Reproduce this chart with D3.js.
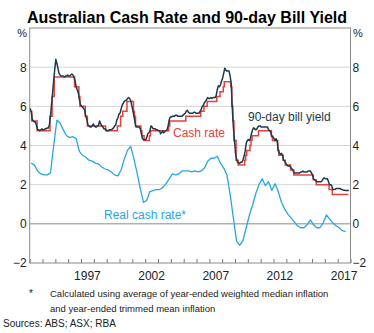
<!DOCTYPE html>
<html>
<head>
<meta charset="utf-8">
<script src="https://cdn.jsdelivr.net/npm/d3@7"></script>
<style>
  body { margin: 0; background: #fff; }
  svg { display: block; font-family: "Liberation Sans", Arial, sans-serif; }
</style>
</head>
<body>
<svg width="374" height="333"></svg>
<script>
"use strict";

// 90-day bank bill yield, monthly from Jan 1993
const billStart = [1993, 0];
const billYield = [
  5.9, 5.7, 5.35, 5.25, 5.2, 5.2, 5.0, 4.8, 4.8, 4.75, 4.8, 4.85,
  4.8, 4.8, 4.85, 4.85, 4.9, 4.9, 5.05, 5.5, 6.1, 6.7, 7.3, 7.9,
  8.4, 8.2, 7.95, 7.7, 7.6, 7.55, 7.55, 7.55, 7.5, 7.55, 7.55, 7.6,
  7.55, 7.55, 7.6, 7.65, 7.6, 7.5, 7.3, 7.0, 6.85, 6.7, 6.35, 6.1,
  6.0, 5.95, 5.9, 5.8, 5.5, 5.35, 5.05, 5.0, 4.95, 4.95, 5.0, 5.1,
  5.0, 4.95, 4.95, 5.0, 5.05, 5.25, 5.1, 5.0, 4.95, 4.85, 4.85, 4.8,
  4.75, 4.75, 4.8, 4.8, 4.8, 4.85, 4.9, 5.0, 5.05, 5.3, 5.4, 5.6,
  5.65, 5.85, 6.05, 6.15, 6.25, 6.3, 6.3, 6.4, 6.45, 6.4, 6.3, 6.05,
  5.8, 5.5, 5.2, 4.95, 4.95, 4.95, 4.95, 4.85, 4.6, 4.35, 4.3, 4.3,
  4.3, 4.4, 4.6, 4.65, 4.75, 5.0, 4.95, 4.85, 4.85, 4.85, 4.8, 4.8,
  4.75, 4.75, 4.6, 4.65, 4.75, 4.65, 4.7, 4.75, 4.8, 5.0, 5.3, 5.45,
  5.45, 5.5, 5.5, 5.5, 5.55, 5.55, 5.5, 5.5, 5.5, 5.5, 5.5, 5.55,
  5.6, 5.65, 5.75, 5.8, 5.7, 5.65, 5.65, 5.65, 5.65, 5.7, 5.7, 5.65,
  5.65, 5.65, 5.65, 5.75, 5.85, 6.0, 6.05, 6.2, 6.25, 6.35, 6.45, 6.4,
  6.4, 6.45, 6.4, 6.45, 6.45, 6.45, 6.55, 6.85, 7.05, 7.0, 7.1, 7.3,
  7.45, 7.7, 7.95, 7.85, 7.8, 7.8, 7.8, 7.55, 7.15, 5.9, 4.95, 4.3,
  3.6, 3.3, 3.15, 3.1, 3.1, 3.15, 3.15, 3.25, 3.45, 3.7, 4.1, 4.25,
  4.3, 4.25, 4.35, 4.6, 4.8, 4.9, 4.85, 4.8, 4.85, 4.95, 5.0, 5.0,
  4.95, 4.95, 4.95, 4.95, 4.95, 4.95, 4.95, 4.8, 4.75, 4.7, 4.45, 4.45,
  4.35, 4.25, 4.35, 4.2, 3.8, 3.6, 3.55, 3.6, 3.5, 3.25, 3.2, 3.1,
  3.0, 2.95, 2.95, 2.95, 2.85, 2.8, 2.7, 2.6, 2.6, 2.6, 2.6, 2.6,
  2.6, 2.65, 2.65, 2.7, 2.65, 2.65, 2.65, 2.65, 2.7, 2.7, 2.7, 2.6,
  2.5, 2.3, 2.25, 2.2, 2.15, 2.15, 2.15, 2.15, 2.15, 2.2, 2.3, 2.35,
  2.3, 2.3, 2.3, 2.15, 2.0, 2.0, 1.95, 1.75, 1.75, 1.75, 1.8, 1.8,
  1.8, 1.8, 1.8, 1.75, 1.75, 1.72, 1.72, 1.7, 1.7, 1.7, 1.7
];

// cash rate target: month of each change and the new level
const cashDates = [
  "1993-01", "1993-03", "1993-08", "1994-08", "1994-10", "1994-12", "1996-07", "1996-11",
  "1996-12", "1997-05", "1997-07", "1998-12", "1999-11", "2000-02", "2000-04", "2000-08",
  "2001-02", "2001-03", "2001-04", "2001-09", "2001-10", "2001-12", "2002-05", "2002-06",
  "2003-11", "2003-12", "2005-03", "2006-05", "2006-08", "2006-11", "2007-08", "2007-11",
  "2008-02", "2008-03", "2008-09", "2008-10", "2008-11", "2008-12", "2009-02", "2009-04",
  "2009-10", "2009-11", "2009-12", "2010-03", "2010-04", "2010-05", "2010-11", "2011-11",
  "2011-12", "2012-05", "2012-06", "2012-10", "2012-12", "2013-05", "2013-08", "2015-02",
  "2015-05", "2016-05", "2016-08", "2017-11"
];
const cashRate = [
  5.75, 5.25, 4.75, 5.5, 6.5, 7.5, 7.0, 6.5,
  6.0, 5.5, 5.0, 4.75, 5.0, 5.5, 5.75, 6.25,
  5.75, 5.5, 5.0, 4.75, 4.5, 4.25, 4.5, 4.75,
  5.0, 5.25, 5.5, 5.75, 6.0, 6.25, 6.5, 6.75,
  7.0, 7.25, 7.0, 6.0, 5.25, 4.25, 3.25, 3.0,
  3.25, 3.5, 3.75, 4.0, 4.25, 4.5, 4.75, 4.5,
  4.25, 3.75, 3.5, 3.25, 3.0, 2.75, 2.5, 2.25,
  2.0, 1.75, 1.5, 1.5
];

// real cash rate, quarterly from 1993 Q1
const realStart = [1993, 1];
const realRate = [
  3.1, 3.0, 2.7, 2.55, 2.5, 2.5, 2.6, 4.0,
  5.3, 5.15, 4.8, 4.5, 4.4, 4.45, 4.35, 3.7,
  3.5, 3.4, 3.25, 3.2, 3.1, 3.05, 2.9, 2.8,
  2.75, 2.65, 2.5, 2.45, 2.75, 3.3, 3.75, 3.95,
  3.3, 2.6, 1.8, 1.1, 1.2, 1.65, 1.7, 1.75,
  1.75, 1.85, 2.05, 2.3, 2.55, 2.5, 2.55, 2.7,
  2.7, 2.7, 2.65, 2.7, 2.65, 2.7, 2.85, 3.2,
  3.35, 3.35, 3.45, 3.1, 2.85, 2.5, 1.5, 0.3,
  -0.9, -1.1, -0.85, -0.2, 0.45, 0.95, 1.55, 2.0,
  2.3, 1.95, 2.15, 1.7, 2.05, 1.65, 1.1, 0.75,
  0.5, 0.3, 0.1, -0.1, -0.2, -0.2, -0.05, 0.2,
  -0.05, -0.2, -0.2, 0.05, 0.45, 0.25, 0.05, -0.1,
  -0.2, -0.35, -0.4
];

const yTicks = [-2, 0, 2, 4, 6, 8];
const gridValues = [2, 4, 6, 8];
const yearLabels = [1997, 2002, 2007, 2012, 2017];

const titleText = "Australian Cash Rate and 90-day Bill Yield";
const footnotes = [
  "Calculated using average of year-ended weighted median inflation",
  "and year-ended trimmed mean inflation"
];
const sourceText = "Sources: ABS; ASX; RBA";

const plotLeft = 29.7, plotRight = 350.5, plotTop = 28, plotBottom = 263;
const colBill = "#1c3a4b", colCash = "#e8403a", colReal = "#2aa6df";

const svg = d3.select("svg");

const x = d3.scaleTime()
  .domain([new Date(1993, 0, 1), new Date(2018, 0, 1)])
  .range([plotLeft, plotRight]);
const y = d3.scaleLinear().domain([-2, 10]).range([plotBottom, plotTop]);

const billData = billYield.map((v, i) => ({ date: new Date(billStart[0], billStart[1] + i, 15), value: v }));
const realData = realRate.map((v, i) => ({ date: new Date(realStart[0], realStart[1] + i * 3, 15), value: v }));
const cashData = cashDates.map((d, i) => {
  const p = d.split("-");
  return { date: new Date(+p[0], +p[1] - 1, 1), value: cashRate[i] };
});

// title
svg.append("text")
  .attr("x", 187).attr("y", 23)
  .attr("text-anchor", "middle")
  .style("font-size", "16px").style("font-weight", "bold")
  .attr("fill", "#000")
  .text(titleText);

// horizontal gridlines
svg.append("g")
  .selectAll("line")
  .data(gridValues)
  .join("line")
  .attr("x1", plotLeft).attr("x2", plotRight)
  .attr("y1", d => y(d)).attr("y2", d => y(d))
  .attr("stroke", "#d4d4d4").attr("stroke-width", 1);

svg.append("line")
  .attr("x1", plotLeft).attr("x2", plotRight)
  .attr("y1", y(0)).attr("y2", y(0))
  .attr("stroke", "#8a8a8a").attr("stroke-width", 1);

// yearly ticks pointing into the plot
const xAxis = svg.append("g")
  .attr("transform", `translate(0,${plotBottom})`)
  .call(d3.axisBottom(x).ticks(d3.timeYear.every(1)).tickSize(-4).tickFormat(""));
xAxis.select(".domain").remove();
xAxis.selectAll("line").attr("stroke", "#777");

svg.append("g")
  .selectAll("text")
  .data(yearLabels)
  .join("text")
  .attr("x", d => (x(new Date(d, 0, 1)) + x(new Date(d + 1, 0, 1))) / 2)
  .attr("y", 280)
  .attr("text-anchor", "middle")
  .style("font-size", "12px")
  .attr("fill", "#222")
  .text(d => d);

// value axes on both sides
function styleY(g) {
  g.select(".domain").remove();
  g.selectAll("text").style("font-size", "12px").attr("fill", "#222")
    .style("font-family", "\"Liberation Sans\", Arial, sans-serif");
}
svg.append("g")
  .attr("transform", `translate(${plotLeft},0)`)
  .call(d3.axisLeft(y).tickValues(yTicks).tickSize(0).tickPadding(3))
  .call(styleY);
svg.append("g")
  .attr("transform", `translate(${plotRight},0)`)
  .call(d3.axisRight(y).tickValues(yTicks).tickSize(0).tickPadding(2))
  .call(styleY);

svg.append("text").attr("x", 27).attr("y", 37).attr("text-anchor", "end")
  .style("font-size", "11px").attr("fill", "#222").text("%");
svg.append("text").attr("x", 353).attr("y", 37)
  .style("font-size", "11px").attr("fill", "#222").text("%");

// series
const line = d3.line().x(d => x(d.date)).y(d => y(d.value));
const stepLine = d3.line().x(d => x(d.date)).y(d => y(d.value)).curve(d3.curveStepAfter);

svg.append("path").datum(realData)
  .attr("d", line).attr("fill", "none")
  .attr("stroke", colReal).attr("stroke-width", 1.3).attr("stroke-linejoin", "round");
svg.append("path").datum(cashData)
  .attr("d", stepLine).attr("fill", "none")
  .attr("stroke", colCash).attr("stroke-width", 1.5);
svg.append("path").datum(billData)
  .attr("d", line).attr("fill", "none")
  .attr("stroke", colBill).attr("stroke-width", 1.5).attr("stroke-linejoin", "round");

// plot frame
svg.append("rect")
  .attr("x", plotLeft).attr("y", plotTop)
  .attr("width", plotRight - plotLeft).attr("height", plotBottom - plotTop)
  .attr("fill", "none").attr("stroke", "#8a8a8a").attr("stroke-width", 1);

// series labels
svg.append("text").attr("x", 248).attr("y", 121)
  .style("font-size", "12px").attr("fill", colBill).text("90-day bill yield");
svg.append("text").attr("x", 173).attr("y", 137)
  .style("font-size", "12px").attr("fill", colCash).text("Cash rate");
svg.append("text").attr("x", 104).attr("y", 219)
  .style("font-size", "12px").attr("fill", colReal).text("Real cash rate*");

// notes
svg.append("text").attr("x", 29).attr("y", 297)
  .style("font-size", "10px").attr("fill", "#222").text("*");
svg.append("g")
  .selectAll("text")
  .data(footnotes)
  .join("text")
  .attr("x", 50).attr("y", (d, i) => 297 + i * 15)
  .style("font-size", "9.5px").attr("fill", "#222")
  .text(d => d);
svg.append("text").attr("x", 3).attr("y", 327)
  .style("font-size", "10px").attr("fill", "#222").text(sourceText);
</script>
</body>
</html>
